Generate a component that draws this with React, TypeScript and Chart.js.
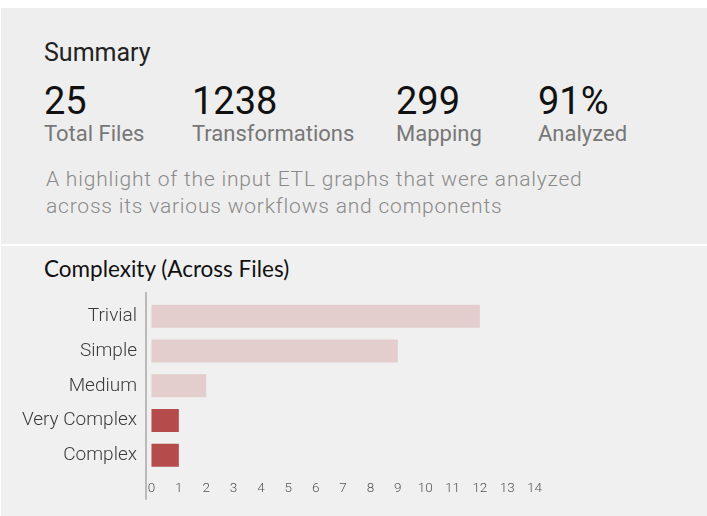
import React, { useEffect, useRef } from "react";
import { Chart, registerables } from "chart.js";

Chart.register(...registerables);

const summaryValues = ["25", "1238", "299", "91%"];
const summaryLabels = ["Total Files", "Transformations", "Mapping", "Analyzed"];
const summaryLefts = [44, 192, 396, 538];
const descriptionLines = [
  "A highlight of the input ETL graphs that were analyzed",
  "across its various workflows and components",
];

const categories = ["Trivial", "Simple", "Medium", "Very Complex", "Complex"];
const fileCounts = [12, 9, 2, 1, 1];
const xTickValues = [0, 1, 2, 3, 4, 5, 6, 7, 8, 9, 10, 11, 12, 13, 14];

const LIGHT = "#e3cdcd";
const DARK = "#b54b4b";
const barColors = [LIGHT, LIGHT, LIGHT, DARK, DARK];

const axisLinePlugin = {
  id: "axisLine",
  afterDraw(chart: any) {
    const { ctx, chartArea } = chart;
    ctx.save();
    ctx.strokeStyle = "#a8a8a8";
    ctx.lineWidth = 1.5;
    ctx.beginPath();
    ctx.moveTo(chartArea.left, chartArea.top - 7);
    ctx.lineTo(chartArea.left, chartArea.bottom + 27);
    ctx.stroke();
    ctx.restore();
  },
};

function ComplexityChart() {
  const ref = useRef<HTMLCanvasElement | null>(null);
  useEffect(() => {
    if (!ref.current) return;
    const chart = new Chart(ref.current, {
      type: "bar",
      data: {
        labels: categories,
        datasets: [
          {
            data: fileCounts,
            backgroundColor: barColors,
            borderWidth: 0,
            barPercentage: 0.66,
            categoryPercentage: 1,
          },
        ],
      },
      options: {
        indexAxis: "y",
        responsive: false,
        animation: false,
        layout: { padding: { left: 0, right: 172.4, top: 52.9, bottom: 3.3 } },
        plugins: { legend: { display: false }, tooltip: { enabled: false } },
        scales: {
          x: {
            type: "linear",
            min: -0.2,
            max: 14,
            grid: { display: false, drawTicks: false },
            border: { display: false },
            afterBuildTicks: (scale: any) => {
              scale.ticks = xTickValues.map((v) => ({ value: v }));
            },
            afterFit: (scale: any) => {
              scale.height = 40;
            },
            ticks: {
              padding: 8,
              color: "#555",
              font: { family: "Roboto", size: 13.5, weight: "300" },
              maxRotation: 0,
              autoSkip: false,
            },
          },
          y: {
            type: "category",
            grid: { display: false, drawTicks: false },
            border: { display: false },
            afterFit: (scale: any) => {
              scale.width = 146;
            },
            ticks: {
              padding: 9,
              color: "#3a3a3a",
              font: { family: "Roboto", size: 19, weight: "300" },
            },
          },
        },
      },
      plugins: [axisLinePlugin],
    });
    return () => chart.destroy();
  }, []);
  return <canvas ref={ref} width={707} height={270} style={{ display: "block" }} />;
}

const abs = (left: number, top: number, size: number, extra: any = {}) => ({
  position: "absolute" as const,
  left,
  top,
  fontSize: size,
  lineHeight: 1,
  whiteSpace: "nowrap" as const,
  fontFamily: "Roboto",
  ...extra,
});

export default function App() {
  useEffect(() => {
    document.body.style.margin = "0";
  }, []);
  return (
    <div style={{ position: "relative", width: 707, height: 516, background: "#ffffff", overflow: "hidden" }}>
      <div style={{ position: "absolute", left: 1, top: 8, width: 706, height: 236, background: "#eeeeee" }} />
      <div style={{ position: "absolute", left: 1, top: 246, width: 706, height: 270, background: "#f0f0f0" }} />
      <div style={abs(44, 40, 25, { color: "#222" })}>Summary</div>
      {summaryValues.map((v, i) => (
        <div key={"v" + i} style={abs(summaryLefts[i], 82, 38, { color: "#111" })}>{v}</div>
      ))}
      {summaryLabels.map((v, i) => (
        <div key={"l" + i} style={abs(summaryLefts[i], 122.5, 22, { color: "#777" })}>{v}</div>
      ))}
      {descriptionLines.map((t, i) => (
        <div key={"d" + i} style={abs(46, 169 + i * 26.6, 21, { color: "#8a8a8a", fontWeight: 300, letterSpacing: "0.8px" })}>{t}</div>
      ))}
      <div style={abs(44, 258, 22.5, { color: "#111", fontFamily: "Lato" })}>Complexity (Across Files)</div>
      <div style={{ position: "absolute", left: 0, top: 246 }}>
        <ComplexityChart />
      </div>
    </div>
  );
}
